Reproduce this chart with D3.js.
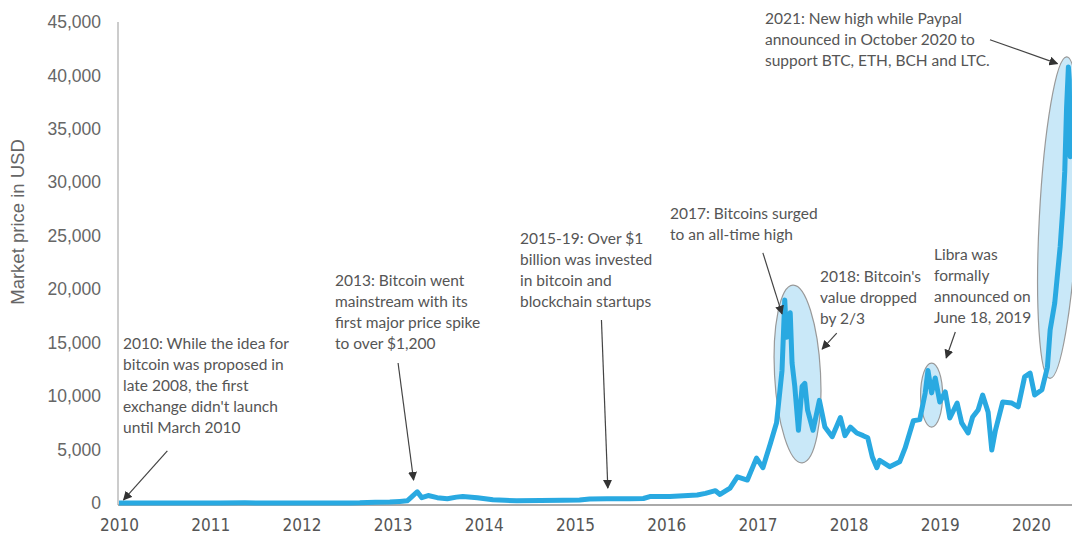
<!DOCTYPE html>
<html>
<head>
<meta charset="utf-8">
<script src="https://cdn.jsdelivr.net/npm/d3@7"></script>
<style>
  body { margin: 0; background: #fff; }
  #chart { width: 1072px; height: 540px; }
  .note { font-family: Lato, "Open Sans", sans-serif; font-size: 15.5px; fill: #555; }
  .ytick { font-family: "Liberation Sans", Arial, sans-serif; font-size: 17.5px; fill: #666; }
  .xtick { font-family: "Liberation Sans Narrow", "DejaVu Sans Condensed", sans-serif; font-size: 17px; fill: #555; }
</style>
</head>
<body>
<div id="chart"></div>
<script>
// price readings, x = position on the year axis
let years = [2010.00, 2010.23, 2010.56, 2010.89, 2011.11, 2011.38, 2011.55, 2011.77, 2011.98, 2012.31,
    2012.53, 2012.64, 2012.81, 2012.97, 2013.08, 2013.16, 2013.20, 2013.27, 2013.32, 2013.39,
    2013.49, 2013.60, 2013.70, 2013.77, 2013.93, 2014.10, 2014.23, 2014.36, 2014.62, 2014.87,
    2015.05, 2015.16, 2015.35, 2015.60, 2015.75, 2015.82, 2016.04, 2016.34, 2016.43, 2016.54,
    2016.59, 2016.70, 2016.78, 2016.89, 2016.99, 2017.06, 2017.14, 2017.21, 2017.27, 2017.30,
    2017.32, 2017.36, 2017.38, 2017.41, 2017.45, 2017.49, 2017.52, 2017.55, 2017.61, 2017.68,
    2017.74, 2017.82, 2017.91, 2017.96, 2018.02, 2018.09, 2018.16, 2018.21, 2018.26, 2018.31,
    2018.34, 2018.45, 2018.56, 2018.62, 2018.71, 2018.78, 2018.84, 2018.87, 2018.91, 2018.95,
    2019.00, 2019.06, 2019.11, 2019.19, 2019.24, 2019.31, 2019.36, 2019.42, 2019.47, 2019.53,
    2019.57, 2019.61, 2019.69, 2019.79, 2019.86, 2019.93, 2019.99, 2020.04, 2020.12, 2020.18,
    2020.21, 2020.26, 2020.32, 2020.35, 2020.37, 2020.39, 2020.41, 2020.42, 2020.43, 2020.45];

let prices = [0.1, 0.3, 0.2, 0.5, 1, 15, 8, 3, 5, 6,
    11, 13, 60, 90, 150, 200, 500, 1050, 500, 700,
    500, 400, 550, 600, 500, 300, 250, 220, 230, 250,
    280, 380, 400, 400, 420, 600, 600, 750, 900, 1150,
    800, 1400, 2450, 2150, 4200, 3300, 5500, 7500, 12400, 19000,
    15500, 17800, 13100, 10900, 6800, 10900, 11200, 8700, 6800, 9600,
    7100, 6200, 8000, 6300, 7100, 6550, 6300, 6100, 4300, 3300,
    4000, 3400, 3850, 5150, 7700, 7800, 10300, 12400, 10300, 11700,
    9450, 10400, 7950, 9350, 7500, 6550, 8050, 8700, 10100, 8500,
    4950, 6800, 9450, 9350, 9000, 11800, 12150, 10100, 10600, 12700,
    16200, 18700, 24000, 27700, 31000, 37000, 40800, 39600, 32400, 34000];

let yTicks = [0, 5000, 10000, 15000, 20000, 25000, 30000, 35000, 40000, 45000];
let xTicks = [2010, 2011, 2012, 2013, 2014, 2015, 2016, 2017, 2018, 2019, 2020];

// highlighted periods: centre year, centre price
let highlights = [
    {year: 2017.44, price: 12070, rx: 23, ry: 89, rot: -3},
    {year: 2018.91, price: 10100, rx: 11, ry: 32, rot: 0},
    {year: 2020.30, price: 26700, rx: 19, ry: 161, rot: 3}
];

let notes = [
    {lines: ["2010: While the idea for", "bitcoin was proposed in", "late 2008, the first", "exchange didn't launch", "until March 2010"],
        tx: 123, ty: 345, from: [2010.53, 4870], to: [2010.05, 300]},
    {lines: ["2013: Bitcoin went", "mainstream with its", "first major price spike", "to over $1,200"],
        tx: 335, ty: 282, from: [2013.06, 13100], to: [2013.23, 2150]},
    {lines: ["2015-19: Over $1", "billion was invested", "in bitcoin and", "blockchain startups"],
        tx: 520, ty: 240, from: [2015.29, 17130], to: [2015.36, 1400]},
    {lines: ["2017: Bitcoins surged", "to an all-time high"],
        tx: 670, ty: 215, from: [2017.06, 23400], to: [2017.27, 17700]},
    {lines: ["2018: Bitcoin's", "value dropped", "by 2/3"],
        tx: 820, ty: 278, from: [2017.87, 15900], to: [2017.71, 14400]},
    {lines: ["Libra was", "formally", "announced on", "June 18, 2019"],
        tx: 934, ty: 256, from: [2019.17, 16000], to: [2019.07, 13570]},
    {lines: ["2021: New high while Paypal", "announced in October 2020 to", "support BTC, ETH, BCH and LTC."],
        tx: 765, ty: 20, from: [2019.55, 43340], to: [2020.29, 41100]}
];

let data = years.map((y, i) => ({x: y, y: prices[i]}));

let svg = d3.select("#chart").append("svg")
    .attr("width", 1072)
    .attr("height", 540);

let x = d3.scaleLinear().domain([2010, 2020]).range([119, 1031]);
let y = d3.scaleLinear().domain([0, 45000]).range([503, 22]);

svg.append("defs").append("marker")
    .attr("id", "head")
    .attr("viewBox", "0 0 10 10")
    .attr("refX", 9).attr("refY", 5)
    .attr("markerWidth", 9).attr("markerHeight", 9)
    .attr("markerUnits", "userSpaceOnUse")
    .attr("orient", "auto")
    .append("path")
    .attr("d", "M0,0 L10,5 L0,10 z")
    .attr("fill", "#333");

// axes
let yAxis = svg.append("g")
    .attr("transform", "translate(118,0)")
    .call(d3.axisLeft(y).tickValues(yTicks).tickSize(0).tickPadding(17).tickFormat(d3.format(",")));
yAxis.select(".domain").attr("stroke", "#999").attr("d", "M0," + y(45000) + "V505");
yAxis.selectAll("text").attr("class", "ytick").attr("fill", null);

let xAxis = svg.append("g")
    .attr("transform", "translate(0,505)")
    .call(d3.axisBottom(x).tickValues(xTicks).tickSize(0).tickPadding(14).tickFormat(d3.format("d")));
xAxis.select(".domain").attr("stroke", "#aaa").attr("stroke-width", 2).attr("d", "M118,0H1072");
xAxis.selectAll("text").attr("class", "xtick").attr("fill", null);

svg.append("text")
    .attr("class", "ytick")
    .attr("transform", "translate(24,222) rotate(-90)")
    .attr("text-anchor", "middle")
    .style("font-size", "18.5px")
    .text("Market price in USD");

// highlight ellipses
svg.selectAll(".hl")
    .data(highlights)
    .enter().append("ellipse")
    .attr("class", "hl")
    .attr("transform", d => `translate(${x(d.year)},${y(d.price)}) rotate(${d.rot})`)
    .attr("rx", d => d.rx)
    .attr("ry", d => d.ry)
    .attr("fill", "#c9e8f8")
    .attr("stroke", "#999")
    .attr("stroke-width", 1.2);

// price line
let line = d3.line()
    .x(d => x(d.x))
    .y(d => y(d.y));

svg.append("path")
    .datum(data)
    .attr("d", line)
    .attr("fill", "none")
    .attr("stroke", "#29a9e1")
    .attr("stroke-width", 5)
    .attr("stroke-linejoin", "round");

// notes
notes.forEach(n => {
    let t = svg.append("text")
        .attr("class", "note")
        .attr("x", n.tx)
        .attr("y", n.ty)
        .attr("dominant-baseline", "middle");
    n.lines.forEach((l, i) => {
        t.append("tspan").attr("x", n.tx).attr("dy", i ? 21 : 0).text(l);
    });

    svg.append("line")
        .attr("x1", x(n.from[0])).attr("y1", y(n.from[1]))
        .attr("x2", x(n.to[0])).attr("y2", y(n.to[1]))
        .attr("stroke", "#444")
        .attr("stroke-width", 1.2)
        .attr("marker-end", "url(#head)");
});
</script>
</body>
</html>
